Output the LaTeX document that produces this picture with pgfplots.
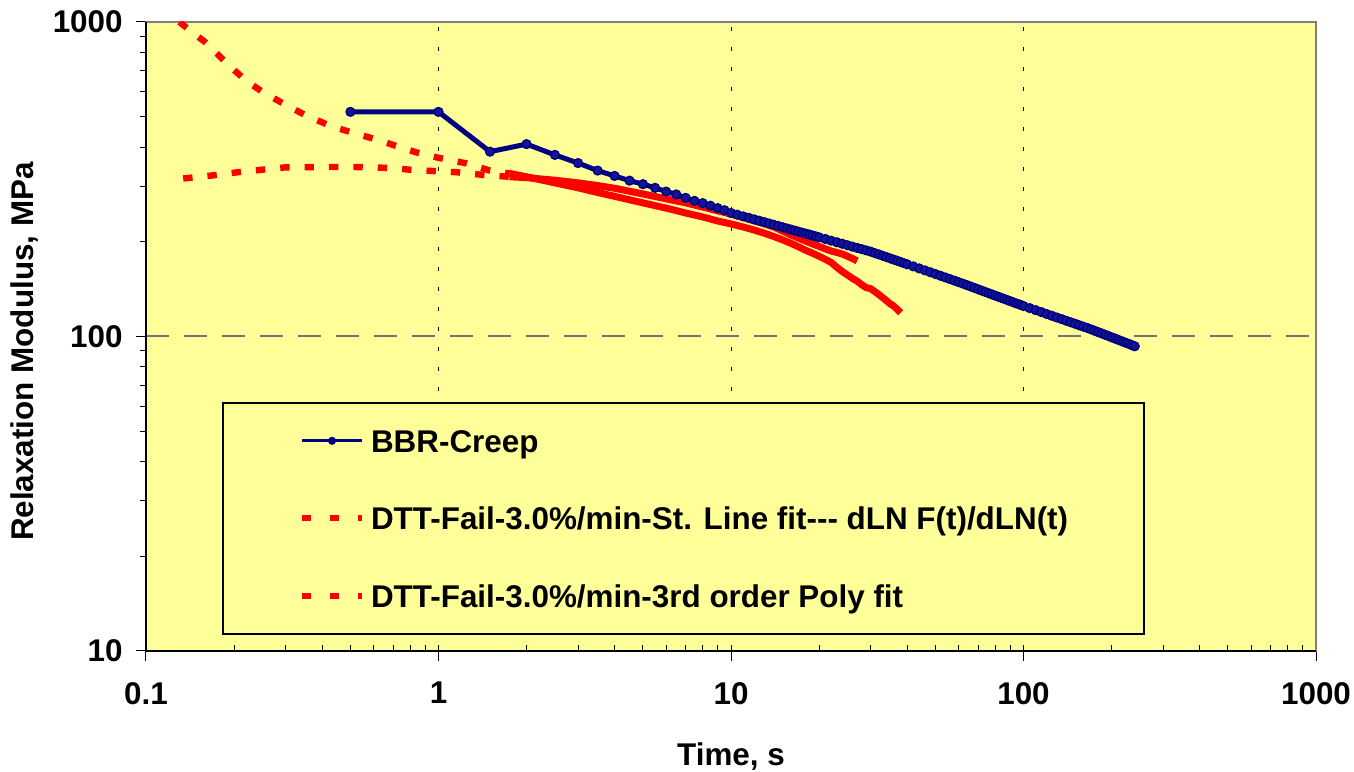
\documentclass[border=0pt]{standalone}
\usepackage{fontspec}
\setmainfont{Liberation Sans}
\usepackage{pgfplots}
\pgfplotsset{compat=1.18}
\definecolor{bgyellow}{RGB}{255,255,153}
\definecolor{navyc}{RGB}{0,0,128}
\definecolor{navyfill}{RGB}{20,20,150}
\definecolor{bordergray}{RGB}{128,128,128}
\newcommand{\chartfont}{\fontsize{15.7}{18}\selectfont\bfseries}
\begin{document}
\begin{tikzpicture}
\begin{axis}[
  name=ax,
  at={(0,0)}, anchor=south west,
  scale only axis, width=585pt, height=314.5pt,
  xmode=log, ymode=log,
  xmin=0.1, xmax=1000, ymin=10, ymax=1000,
  xtick={0.1,1,10,100,1000}, xticklabels={0.1,1,10,100,1000},
  ytick={10,100,1000}, yticklabels={10,100,1000},
  xtick pos=bottom, ytick pos=left,
  axis background/.style={fill=bgyellow},
  axis line style={draw=bordergray, line width=0.75pt},
  tick style={black, line width=0.5pt},
  major tick length=5pt, minor tick length=3pt,
  xtick align=outside, ytick align=outside,
  minor x tick style={yshift=3pt},
  xmajorgrids, ymajorgrids,
  major x grid style={black, line width=0.5pt, dash pattern=on 2pt off 8pt},
  major y grid style={black!55, line width=1pt, dash pattern=on 11.5pt off 7.5pt},
  ticklabel style={font=\chartfont, inner sep=0pt},
  yticklabel style={anchor=east, xshift=-6.5pt},
  xticklabel style={anchor=north, yshift=-10.5pt},
  label style={font=\chartfont},
  xlabel={Time, s}, ylabel={Relaxation Modulus, MPa},
  xlabel style={at={(axis description cs:0.5,-0.1447)}, anchor=north, inner sep=0pt},
  ylabel style={at={(axis description cs:-0.1034,0.476)}, anchor=center, inner sep=0pt},
  legend style={at={(rel axis cs:0.065,0.0254)}, anchor=south west, draw=black, line width=1pt,
    fill=bgyellow, inner xsep=38pt, inner ysep=13.5pt, row sep=27.5pt, column sep=3pt,
    font=\chartfont, nodes={inner sep=0pt, text height=11.24pt, text depth=0pt}},
  legend cell align=left,
]
\addlegendimage{legend image code/.code={\draw[navyc, line width=1.6pt] (0pt,0pt) -- (30pt,0pt); \fill[navyc] (15pt,0pt) circle (1.5pt);}}
\addlegendentry{BBR-Creep}
\addlegendimage{legend image code/.code={\draw[red, line width=3pt, dash pattern=on 4.7pt off 9.2pt] (0pt,0pt) -- (30pt,0pt);}}
\addlegendentry{DTT-Fail-3.0\%/min-St. Line fit-{}-{}- dLN F(t)/dLN(t)}
\addlegendimage{legend image code/.code={\draw[red, line width=3pt, dash pattern=on 4.7pt off 9.2pt] (0pt,0pt) -- (30pt,0pt);}}
\addlegendentry{DTT-Fail-3.0\%/min-3rd order Poly fit}

% Red curve A (dashed sparse part)
\addplot[forget plot, red, line width=3.2pt, dash pattern=on 4.7pt off 7.5pt] table {
0.13 1000
0.16 860
0.19 735
0.22 650
0.25 600
0.29 555
0.35 506
0.43 466
0.52 442
0.62 422
0.72 403
0.84 385
1.0 370
1.25 355
1.5 337
1.75 330
};
% Red curve A (dense part)
\addplot[forget plot, red, line width=3.5pt, line join=round] table {
1.75 330
2.0 322
2.5 308
3.0 297
3.5 287
4.0 279
5.0 266
6.0 256
7.0 247
8.0 240
9.0 233
10 228
11 223
12 218
13 213
14 208
15 203
16 198
17 193
18 188
19 184
20 180
21 176
22 172
23 166
24 161
25 157
26 153
27 150
28 146
29 143
30 142
31 139
32 136
33 133
34 130
35 127
36 125
37 122
38 119
};
% Red curve B (dashed sparse part)
\addplot[forget plot, red, line width=3.2pt, dash pattern=on 4.7pt off 7.5pt] table {
0.134 318
0.168 325
0.212 334
0.265 341
0.30 345
0.4 346
0.5 346
0.6 345
0.7 343
0.8 339
0.9 337
1.0 335
1.15 333
1.3 329
1.5 325
1.75 322
};
% Red curve B (dense part)
\addplot[forget plot, red, line width=3.5pt, line join=round] table {
1.75 322
2.0 320
2.5 314
3.0 308
3.5 302
4.0 296
5.0 284
6.0 274
7.0 266
8.0 258
9.0 251
10 245
11 239
12 233
13 228
14 223
15 216.5
16 210.5
17 205.5
18 201
19 197
20 193.5
21 190
22 187
23 185
24 183
25 180
26 177
27 174
};
% Blue BBR creep
\addplot[forget plot, navyc, line width=2.5pt, line join=round, mark=*, mark size=2.2pt,
  mark options={solid, fill=navyfill, draw=navyc, line width=0.7pt}] table {
0.5 518
1 518
1.5 387
2 409
2.5 378
3 356
3.5 337
4 324
4.5 313
5 305
5.5 297
6 289
6.5 283
7 276
7.5 270
8 265.5
8.5 260.6
9 256
9.5 252
10 247
10.5 244
11 241
11.5 238.4
12 235.8
12.5 233.4
13 231
13.5 228.8
14 226.6
14.5 224.6
15 222.6
15.5 220.7
16 218.9
16.5 217.2
17 215.6
17.5 214
18 212.4
18.5 211
19 209.5
19.5 208.1
20 206.7
21 204.2
22 201.7
23 199.4
24 197.2
25 195.1
26 193.1
27 191.3
28 189.5
29 187.8
30 186.2
31 184.2
32 182.4
33 180.6
34 178.9
35 177.2
36 175.6
37 174.1
38 172.6
39 171.1
40 169.7
42 167.1
44 164.6
46 162.3
48 160.1
50 158.0
52 156.0
54 154.1
56 152.3
58 150.6
60 148.9
62 147.3
64 145.7
66 144.2
68 142.7
70 141.3
72 139.9
74 138.6
76 137.3
78 136.1
80 134.9
82 133.8
84 132.7
86 131.6
88 130.6
90 129.6
92 128.6
94 127.6
96 126.8
98 125.9
100 125.0
105 123.1
110 121.3
115 119.6
120 117.9
125 116.4
130 114.9
135 113.6
140 112.2
145 111.0
150 109.8
155 108.6
160 107.5
165 106.5
170 105.4
175 104.3
180 103.3
185 102.3
190 101.3
195 100.4
200 99.4
205 98.6
210 97.7
215 96.9
220 96.1
225 95.3
230 94.6
235 93.8
240 93.1
};
\end{axis}
\draw[black, line width=0.75pt] (ax.north west) -- (ax.south west) -- (ax.south east);
\pgfresetboundingbox
\useasboundingbox (-73pt,-60pt) rectangle (604pt,325.5pt);
\end{tikzpicture}
\end{document}
